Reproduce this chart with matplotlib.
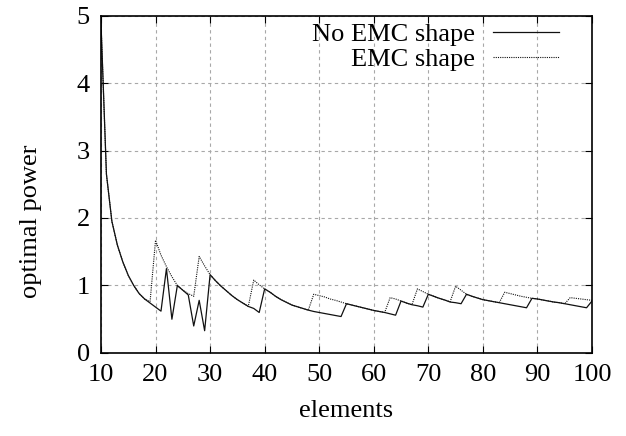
import matplotlib
matplotlib.use('Agg')
from matplotlib import pyplot as plt

plt.rcParams['font.family'] = ['Liberation Serif', 'DejaVu Serif']

elements = list(range(10, 101))

# optimal power without EMC shape (solid)
no_emc = [
	4.90, 2.65, 1.95, 1.60, 1.35, 1.15, 1.00, 0.88, 0.80, 0.74,   # 10-19
	0.68, 0.62, 1.25, 0.50, 1.00, 0.93, 0.86, 0.40, 0.78, 0.33,   # 20-29
	1.16, 1.07, 0.99, 0.92, 0.85, 0.79, 0.74, 0.69, 0.66, 0.60,   # 30-39
	0.95, 0.90, 0.84, 0.79, 0.75, 0.71, 0.685, 0.66, 0.635, 0.615,  # 40-49
	0.60, 0.585, 0.57, 0.555, 0.54, 0.73, 0.71, 0.69, 0.67, 0.65,  # 50-59
	0.63, 0.615, 0.60, 0.58, 0.56, 0.77, 0.74, 0.715, 0.70, 0.68,  # 60-69
	0.87, 0.84, 0.81, 0.785, 0.755, 0.745, 0.73, 0.87, 0.84, 0.815,  # 70-79
	0.79, 0.775, 0.76, 0.745, 0.73, 0.715, 0.70, 0.685, 0.67, 0.81,  # 80-89
	0.80, 0.785, 0.77, 0.755, 0.745, 0.73, 0.715, 0.70, 0.685, 0.67,  # 90-99
	0.77,  # 100
]

# optimal power with EMC shape (dotted)
emc = [
	4.90, 2.65, 1.95, 1.60, 1.35, 1.15, 1.00, 0.88, 0.80, 0.76,   # 10-19
	1.67, 1.45, 1.28, 1.13, 1.00, 0.93, 0.88, 0.84, 1.43, 1.29,   # 20-29
	1.16, 1.07, 0.99, 0.92, 0.85, 0.79, 0.74, 0.69, 1.08, 1.01,   # 30-39
	0.95, 0.90, 0.84, 0.79, 0.75, 0.71, 0.685, 0.66, 0.635, 0.87,  # 40-49
	0.85, 0.83, 0.80, 0.78, 0.755, 0.73, 0.71, 0.69, 0.67, 0.65,  # 50-59
	0.63, 0.615, 0.60, 0.82, 0.80, 0.77, 0.74, 0.715, 0.95, 0.91,  # 60-69
	0.87, 0.84, 0.81, 0.785, 0.76, 0.99, 0.93, 0.87, 0.84, 0.815,  # 70-79
	0.79, 0.775, 0.76, 0.745, 0.90, 0.88, 0.86, 0.84, 0.825, 0.81,  # 80-89
	0.80, 0.785, 0.77, 0.755, 0.745, 0.73, 0.82, 0.81, 0.80, 0.79,  # 90-99
	0.78,  # 100
]

x_ticks = [10, 20, 30, 40, 50, 60, 70, 80, 90, 100]
y_ticks = [0, 1, 2, 3, 4, 5]

fig = plt.figure(figsize=(6.26, 4.36), dpi=100)
ax = fig.add_axes([0.1613, 0.1904, 0.7844, 0.774])

ax.plot(elements, no_emc, color='#111111', linewidth=0.9, label='No EMC shape')
ax.plot(elements, emc, color='#111111', linewidth=0.8, linestyle=(0, (1, 1)), label='EMC shape')

ax.set_xlim(10, 100)
ax.set_ylim(0, 5)
ax.set_xticks(x_ticks)
ax.set_yticks(y_ticks)
ax.grid(True, color='#a8a8a8', linestyle=(0, (3, 3)), linewidth=0.8)
ax.tick_params(direction='in', length=5, width=0.8, top=True, right=True, labelsize=19, pad=8)
for spine in ax.spines.values():
	spine.set_linewidth(1.2)

ax.set_xlabel('elements', fontsize=19, labelpad=10)
ax.set_ylabel('optimal power', fontsize=19)
ax.yaxis.set_label_coords(-0.12, 0.39)

ax.legend(loc='upper right', frameon=False, markerfirst=False, fontsize=19,
	handlelength=2.5, handletextpad=0.7, labelspacing=0.05,
	borderaxespad=0.0, bbox_to_anchor=(0.955, 1.01))

plt.savefig('out.png', dpi=100)
